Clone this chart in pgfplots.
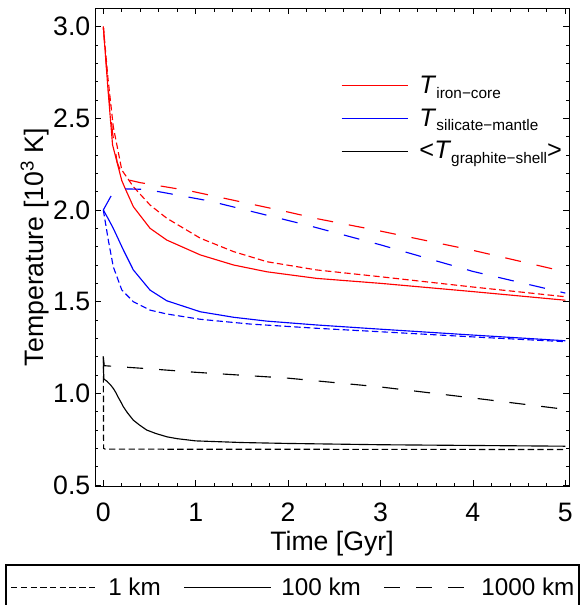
\documentclass[border=0pt]{standalone}
\usepackage{fontspec}
\setmainfont{Liberation Sans}
\usepackage{pgfplots}
\pgfplotsset{compat=1.18}

\tikzset{
  km1/.style={line width=0.85pt, dash pattern=on 4.8pt off 2.5pt},
  km100/.style={line width=0.85pt},
  km1000/.style={line width=0.85pt, dash pattern=on 12pt off 12pt},
}
\newcommand{\bigf}{\fontsize{20}{24}\selectfont}
\newcommand{\legf}{\fontsize{18.2}{22}\selectfont}
\newcommand{\lsub}[1]{\raisebox{-3.5pt}{\fontsize{11.5}{13}\selectfont #1}}

\begin{document}
\begin{tikzpicture}
\begin{axis}[
  at={(0,0)}, anchor=south west,
  scale only axis, width=355.5pt, height=358.3pt,
  xmin=-0.09, xmax=5.04, ymin=0.495, ymax=3.1,
  xtick={0,1,2,3,4,5}, ytick={0.5,1,1.5,2,2.5,3},
  minor x tick num=4, minor y tick num=4,
  tick align=inside, major tick length=4.5pt, minor tick length=2.5pt,
  axis line style={line width=0.6pt},
  every tick/.style={line width=0.5pt, black},
  /pgf/number format/assume math mode=true,
  yticklabel style={/pgf/number format/.cd, fixed, fixed zerofill, precision=1},
  xticklabel style={anchor=center, yshift=-19.5pt},
  tick label style={font=\bigf},
  label style={font=\bigf},
  xlabel={Time [Gyr]},
  xlabel style={at={(axis description cs:0.5,-0.12)}, anchor=center},
  ylabel={Temperature [10\textsuperscript{3} K]},
  ylabel style={at={(axis description cs:-0.1266,0.5)}, anchor=center},
  legend cell align=left,
  legend image code/.code={\draw[#1] (0pt,0pt) -- (50pt,0pt);},
  legend style={at={(0.51,0.87)}, anchor=north west, draw=none, fill=none,
    font=\fontsize{19}{23}\selectfont, row sep=6pt,
    /tikz/every odd column/.append style={column sep=6pt}},
]
% 100 km runs (also the legend lines)
\addplot[red, km100] coordinates {(0,3.0) (0.05,2.66) (0.10,2.355) (0.2,2.16) (0.236,2.118) (0.325,2.018) (0.506,1.90) (0.687,1.836) (1.05,1.755) (1.41,1.70) (1.77,1.663) (2.31,1.627) (3,1.60) (4,1.555) (5,1.508)};
\addlegendentry{\textit{T}\lsub{iron−core}}
\addplot[blue, km100] coordinates {(0,2.0) (0.05,1.955) (0.108,1.90) (0.217,1.782) (0.325,1.673) (0.506,1.563) (0.687,1.505) (1.05,1.445) (1.41,1.415) (1.77,1.394) (2.31,1.373) (3,1.35) (4,1.318) (5,1.287)};
\addlegendentry{\textit{T}\lsub{silicate−mantle}}
\addplot[black, km100] coordinates {(0,1.2) (0.005,1.08) (0.02,1.073) (0.04,1.066) (0.06,1.055) (0.08,1.045) (0.108,1.027) (0.135,1.005) (0.16,0.98) (0.19,0.953) (0.217,0.927) (0.26,0.895) (0.325,0.854) (0.39,0.828) (0.47,0.80) (0.57,0.781) (0.69,0.763) (0.8,0.753) (1,0.741) (1.5,0.732) (2,0.727) (3,0.72) (4,0.716) (5,0.712)};
\addlegendentry{<\textit{T}\lsub{graphite−shell}>}

% 1 km and 1000 km runs
\addplot[red, km1, forget plot] coordinates {(0,3.0) (0.05,2.72) (0.108,2.454) (0.2,2.218) (0.325,2.127) (0.506,2.027) (0.687,1.955) (1.05,1.846) (1.41,1.773) (1.77,1.718) (2.31,1.673) (3,1.636) (4,1.58) (5,1.527)};
\addplot[red, km1000, forget plot] coordinates {(0,3.0) (0.05,2.68) (0.1,2.42) (0.15,2.26) (0.22,2.17) (0.4,2.149) (0.94,2.104) (1.99,1.99) (2.33,1.951) (3,1.885) (4,1.78) (5,1.663)};
\addplot[blue, km1, forget plot] coordinates {(0,2.0) (0.054,1.836) (0.108,1.69) (0.2,1.564) (0.325,1.50) (0.506,1.454) (0.687,1.433) (1.05,1.404) (1.59,1.378) (2.31,1.355) (3,1.336) (4,1.308) (5,1.282)};
\addplot[blue, km1000, forget plot] coordinates {(0,2.0) (0.09,2.082) (0.235,2.115) (0.416,2.113) (0.6,2.10) (1.14,2.05) (2.2,1.918) (3,1.81) (4,1.665) (5,1.547)};
\addplot[black, km1, forget plot] coordinates {(0,1.2) (0.003,0.70) (0.02,0.696) (5,0.694)};
\addplot[black, km1000, forget plot] coordinates {(0,1.2) (0.01,1.151) (0.5,1.134) (1,1.115) (2,1.083) (3,1.035) (4,0.975) (5,0.913)};
\end{axis}

\begin{axis}[
  at={(0,0)}, anchor=south west,
  scale only axis, width=355.5pt, height=358.3pt,
  hide axis, xmin=0, xmax=1, ymin=0, ymax=1,
  legend columns=3,
  legend image code/.code={\draw[#1] (0pt,0pt) -- (65pt,0pt);},
  legend style={at={(-0.19,-0.1633)}, anchor=north west, draw=black, line width=1.3pt,
    font=\legf, inner xsep=3.5pt, inner ysep=6.5pt, nodes={inner xsep=0pt, inner ysep=3pt},
    /tikz/every odd column/.append style={column sep=7.5pt},
    /tikz/column 2/.append style={column sep=17pt},
    /tikz/column 4/.append style={column sep=17pt}},
]
\addlegendimage{black, km1}
\addlegendentry{1 km}
\addlegendimage{black, km100}
\addlegendentry{100 km}
\addlegendimage{black, km1000}
\addlegendentry{1000 km}
\end{axis}

\pgfresetboundingbox
\path[use as bounding box] (-71.25pt,-89.25pt) rectangle (363.75pt,364.5pt);
\end{tikzpicture}
\end{document}
